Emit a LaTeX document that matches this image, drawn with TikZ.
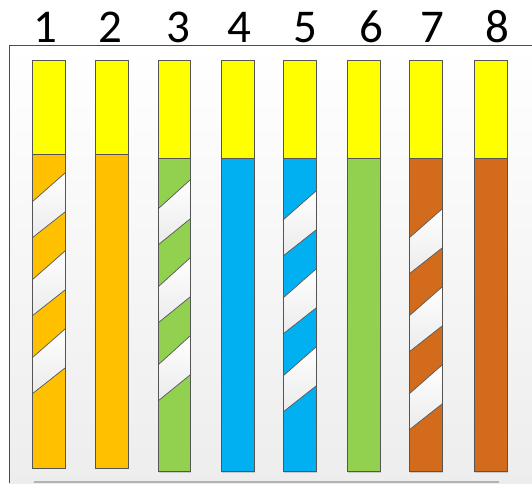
\documentclass[tikz,border=0pt]{standalone}
\usepackage{fontspec}
\setmainfont{Carlito}
\definecolor{wyellow}{HTML}{FFFF00}
\definecolor{worange}{HTML}{FFC000}
\definecolor{wgreen}{HTML}{92D050}
\definecolor{wblue}{HTML}{00B0F0}
\definecolor{wbrown}{HTML}{D26C1C}
\definecolor{edgegray}{HTML}{555555}
\tikzset{
  outline/.style={draw=edgegray,line width=0.9pt},
  stripeedge/.style={draw=edgegray,line width=0.7pt},
  numlabel/.style={anchor=base,font=\fontsize{47}{50}\selectfont,inner sep=0pt},
}
\newcommand\wirebody[5]{% xl, xr, ybreak, ybot, colour
  \fill[black!30,opacity=0.6] (#1+1.2,61.2) rectangle (#2+1.2,#4+1.2);
  \fill[wyellow] (#1,60) rectangle (#2,#3);
  \fill[#5] (#1,#3) rectangle (#2,#4);
}
\newcommand\wirestripes[3]{% xl, xr, first top on right edge
  \foreach \k in {0,1,2}{
    \pgfmathsetmacro\R{#3+78*\k}
    \shade[top color=white,bottom color=black!8] (#1,\R+29) -- (#2,\R) -- (#2,\R+39) -- (#1,\R+65) -- cycle;
    \draw[stripeedge] (#1,\R+29) -- (#2,\R) (#2,\R+39) -- (#1,\R+65);
  }
}
\newcommand\wireoutline[4]{% xl, xr, ybreak, ybot
  \draw[outline] (#1,60) rectangle (#2,#4);
  \draw[outline] (#1,#3) -- (#2,#3);
}
\begin{document}
\begin{tikzpicture}[x=1pt,y=-1pt]
\useasboundingbox (0,0) rectangle (532,483);
\fill[white] (0,0) rectangle (532,483);
% frame
\shade[top color=white,bottom color=black!7] (9,45) rectangle (532,483);
\draw[black!70,line width=1pt] (9,483) -- (9,45) -- (532,45);
\draw[black!30,line width=1.5pt] (34,482) -- (499,482);
% wires
\wirebody{32}{65}{154}{468}{worange}
\wirestripes{32}{65}{173}
\wireoutline{32}{65}{154}{468}
\wirebody{95}{128}{154}{468}{worange}
\wireoutline{95}{128}{154}{468}
\wirebody{158}{190}{158}{471.5}{wgreen}
\wirestripes{158}{190}{180}
\wireoutline{158}{190}{158}{471.5}
\wirebody{221}{254}{158}{471.5}{wblue}
\wireoutline{221}{254}{158}{471.5}
\wirebody{283}{316}{158}{471.5}{wblue}
\wirestripes{283}{316}{191}
\wireoutline{283}{316}{158}{471.5}
\wirebody{347}{380}{158}{471.5}{wgreen}
\wireoutline{347}{380}{158}{471.5}
\wirebody{409}{442}{158}{471.5}{wbrown}
\wirestripes{409}{442}{209}
\wireoutline{409}{442}{158}{471.5}
\wirebody{474}{507}{158}{471.5}{wbrown}
\wireoutline{474}{507}{158}{471.5}
% labels
\node[numlabel] (n1) at (45.5,42) {1};
\node[numlabel] (n2) at (110.5,42) {2};
\node[numlabel] (n3) at (178,42) {3};
\node[numlabel] (n4) at (239,42) {4};
\node[numlabel] (n5) at (305,42) {5};
\node[numlabel] (n6) at (371,42) {6};
\node[numlabel] (n7) at (432,42) {7};
\node[numlabel] (n8) at (497.5,42) {8};
\end{tikzpicture}
\end{document}
